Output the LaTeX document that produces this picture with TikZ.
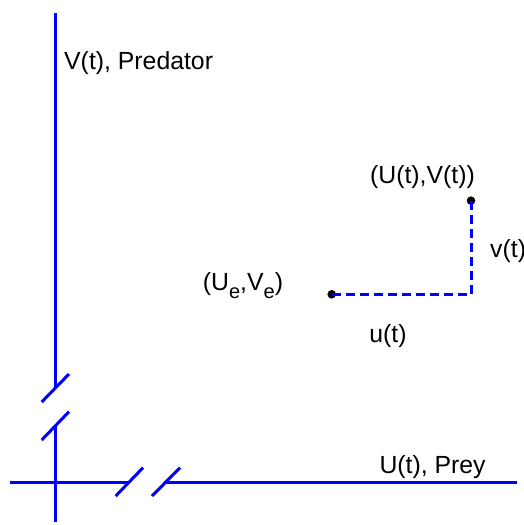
\documentclass[tikz,border=0pt]{standalone}
\usepackage{fontspec}
\setmainfont{Liberation Sans}
\usetikzlibrary{positioning}

\newcommand{\lowsub}[1]{\raisebox{-7.5pt}{\fontsize{20}{20}\selectfont #1}}

\begin{document}
\begin{tikzpicture}[
  x=1pt,y=1pt,
  line cap=butt,line join=miter,
  axis/.style={draw=blue,line width=3pt},
  brk/.style={draw=blue,line width=3pt},
  dashln/.style={draw=blue,line width=3pt,dash pattern=on 9pt off 5pt},
  dot/.style={circle,fill=black,inner sep=0pt,minimum size=8.6pt},
  lbl/.style={inner sep=0pt,font=\fontsize{24.8}{28}\selectfont}
]
  \path[use as bounding box] (0,0) rectangle (523,525);

  % predator axis, with a break
  \draw[axis] (55,512) -- (55,137);
  \draw[axis] (55,99) -- (55,3);
  \draw[brk] (41.7,123) -- (69,151);
  \draw[brk] (41.7,85) -- (69,113.3);

  % prey axis, with a break
  \draw[axis] (10,42.7) -- (129.3,42.7);
  \draw[axis] (166,42.7) -- (517,42.7);
  \draw[brk] (115.7,29) -- (143,57.3);
  \draw[brk] (152,29) -- (180,57.3);

  \node[lbl,anchor=base west] (vlab) at (64,455.7) {V(t), Predator};
  \node[lbl,anchor=base west] (ulab) at (379.3,51.7) {U(t), Prey};

  % equilibrium and state
  \node[dot] (eq) at (331.7,230.7) {};
  \node[dot] (state) at (471,324.3) {};
  \coordinate (corner) at (471,230.7);
  \draw[dashln] (eq.center) -- (corner) -- (state.center);

  \node[lbl,anchor=base] (eqlab) at (243,234) {(U\lowsub{e},V\lowsub{e})};
  \node[lbl,anchor=base] (stlab) at (422.5,341.7) {(U(t),V(t))};
  \node[lbl,anchor=base west] (vt) at (490,267.7) {v(t)};
  \node[lbl,anchor=base] (ut) at (388,182.3) {u(t)};
\end{tikzpicture}
\end{document}
